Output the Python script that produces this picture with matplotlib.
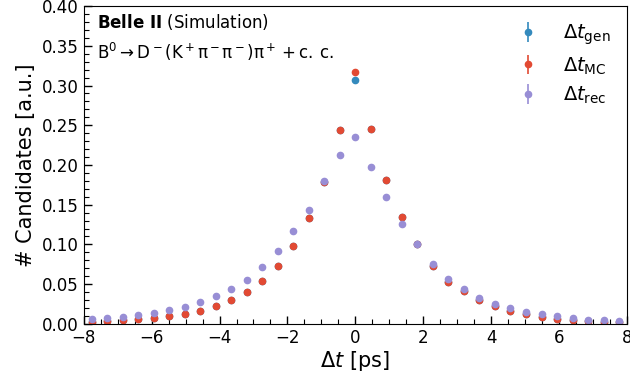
import numpy as np
import matplotlib
matplotlib.use("Agg")
import matplotlib.pyplot as plt
from matplotlib.ticker import MultipleLocator

# ========== Data ==========
# 35 bins between -8 and 8 ps, values are bin centres
edges = np.linspace(-8, 8, 36)
centres = 0.5 * (edges[:-1] + edges[1:])

dt_mc = [0.0017, 0.0033, 0.0043, 0.0063, 0.0073, 0.0093, 0.0124, 0.0164,
         0.0225, 0.0306, 0.0397, 0.0538, 0.0730, 0.0983, 0.1337, 0.1780,
         0.2443, 0.3165, 0.2459,
         0.1812, 0.1347, 0.1003, 0.0734, 0.0533, 0.0417, 0.0303, 0.0223,
         0.0164, 0.0124, 0.0089, 0.0063, 0.0046, 0.0033, 0.0025, 0.0023]

dt_gen = [0.0017, 0.0033, 0.0043, 0.0063, 0.0073, 0.0093, 0.0124, 0.0164,
          0.0225, 0.0306, 0.0397, 0.0538, 0.0730, 0.0985, 0.1337, 0.1780,
          0.2443, 0.3070, 0.2459,
          0.1812, 0.1347, 0.1008, 0.0734, 0.0533, 0.0417, 0.0303, 0.0223,
          0.0164, 0.0124, 0.0089, 0.0063, 0.0046, 0.0033, 0.0025, 0.0023]

dt_rec = [0.0059, 0.0075, 0.0088, 0.0114, 0.0134, 0.0174, 0.0215, 0.0275,
          0.0356, 0.0437, 0.0558, 0.0720, 0.0912, 0.1175, 0.1438, 0.1800,
          0.2120, 0.2347, 0.1973,
          0.1600, 0.1260, 0.1003, 0.0755, 0.0567, 0.0437, 0.0326, 0.0255,
          0.0202, 0.0154, 0.0118, 0.0093, 0.0071, 0.0050, 0.0043, 0.0033]

# tiny statistical errors, hardly visible behind the markers
err_mc = [0.0008] * len(dt_mc)
err_gen = [0.0008] * len(dt_gen)
err_rec = [0.0008] * len(dt_rec)

# ========== Plot ==========
plt.rcParams.update({
    "font.family": ["DejaVu Sans"],
    "mathtext.fontset": "dejavusans",
    "xtick.labelsize": 12,
    "ytick.labelsize": 12,
    "axes.labelsize": 15,
})

fig = plt.figure(figsize=(6.3, 3.81), dpi=100)
ax = fig.add_axes([0.133, 0.15, 0.862, 0.834])

ax.errorbar(centres, dt_gen, yerr=err_gen, fmt="o", ms=4.5, color="#348ABD",
            elinewidth=1.2, capsize=0, label=r"$\Delta t_{\rm gen}$")
ax.errorbar(centres, dt_mc, yerr=err_mc, fmt="o", ms=4.5, color="#E24A33",
            elinewidth=1.2, capsize=0, label=r"$\Delta t_{\rm MC}$")
ax.errorbar(centres, dt_rec, yerr=err_rec, fmt="o", ms=4.5, color="#988ED5",
            elinewidth=1.2, capsize=0, label=r"$\Delta t_{\rm rec}$")

ax.set_xlim(-8, 8)
ax.set_ylim(0, 0.40)
ax.xaxis.set_major_locator(MultipleLocator(2))
ax.xaxis.set_minor_locator(MultipleLocator(0.5))
ax.yaxis.set_major_locator(MultipleLocator(0.05))
ax.yaxis.set_minor_locator(MultipleLocator(0.01))
ax.yaxis.set_major_formatter(plt.FormatStrFormatter("%.2f"))
ax.tick_params(which="both", direction="in", top=False, right=False)
ax.tick_params(which="major", length=6, width=1)
ax.tick_params(which="minor", length=3.5, width=0.8)

ax.set_xlabel(r"$\Delta t$ [ps]", labelpad=2)
ax.set_ylabel("# Candidates [a.u.]")

ax.text(0.024, 0.95, r"$\bf{Belle\ II}$ (Simulation)", transform=ax.transAxes,
        fontsize=12, va="center")
ax.text(0.024, 0.855, r"$\mathrm{B^0 \to D^-(K^+\pi^-\pi^-)\pi^+ + c.\,c.}$",
        transform=ax.transAxes, fontsize=12, va="center")

ax.legend(loc="upper right", frameon=False, fontsize=14, handletextpad=0.8,
          labelspacing=0.42, borderaxespad=0.45)

fig.savefig("out.png", dpi=100)
